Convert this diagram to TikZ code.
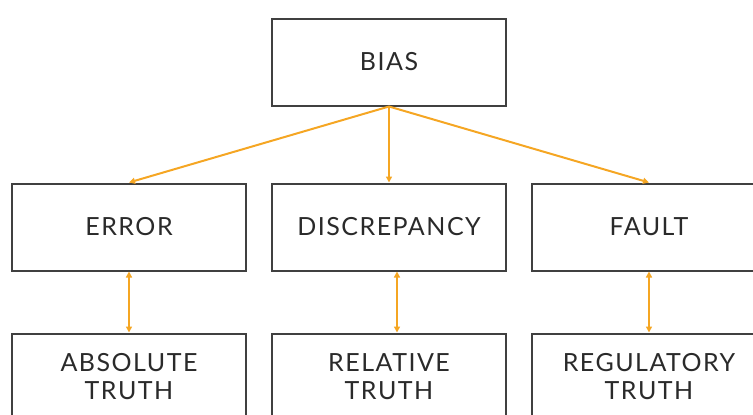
\documentclass[tikz,border=0pt]{standalone}
\usepackage{fontspec}
\setmainfont[LetterSpace=6]{Lato}
\usetikzlibrary{arrows.meta}
\definecolor{boxgray}{HTML}{404040}
\definecolor{txtgray}{HTML}{2A2A2A}
\definecolor{arrorange}{HTML}{F5A623}
\tikzset{
  box/.style={draw=boxgray, line width=2pt, minimum width=234pt, minimum height=87pt,
    inner sep=0pt, align=center, font=\fontsize{25}{28}\selectfont, text=txtgray},
  arr/.style={draw=arrorange, line width=2pt, -{Triangle[length=6pt,width=6pt]}},
  darr/.style={draw=arrorange, line width=2pt, {Triangle[length=6pt,width=6pt]}-{Triangle[length=6pt,width=6pt]}}
}
\begin{document}
\begin{tikzpicture}[x=1pt,y=-1pt]
\useasboundingbox (0,0) rectangle (753,415);
\clip (0,0) rectangle (753,415);
\node[box] (bias) at (389,62) {BIAS};
\node[box] (error) at (129,227) {ERROR};
\node[box] (disc) at (389,227) {DISCREPANCY};
\node[box] (fault) at (649,227) {FAULT};
\node[box] (abs) at (129,377) {ABSOLUTE\\TRUTH};
\node[box] (rel) at (389,377) {RELATIVE\\TRUTH};
\node[box] (reg) at (649,377) {REGULATORY\\TRUTH};
\draw[arr] (bias.south) -- (error.north);
\draw[arr] (bias.south) -- (disc.north);
\draw[arr] (bias.south) -- (fault.north);
\draw[darr] (error.south) -- (abs.north);
\draw[darr] ([xshift=8pt]disc.south) -- ([xshift=8pt]rel.north);
\draw[darr] (fault.south) -- (reg.north);
\end{tikzpicture}
\end{document}
